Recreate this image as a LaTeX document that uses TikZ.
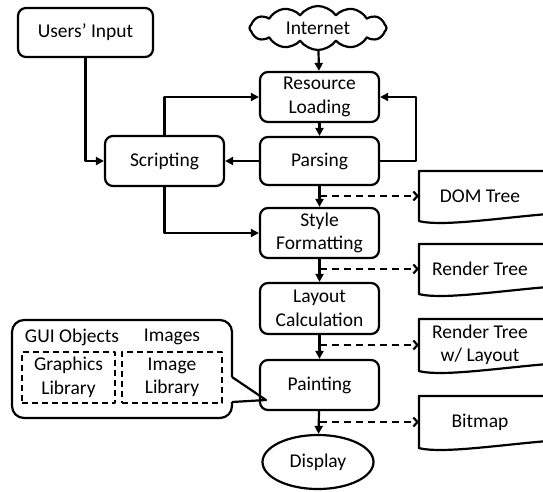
\documentclass[tikz,border=0pt]{standalone}
\usepackage{fontspec}
\setmainfont{Carlito}
\usetikzlibrary{arrows.meta,shapes.geometric,shapes.symbols}

\begin{document}
\begin{tikzpicture}[
  x=1pt, y=-1pt,
  font=\fontsize{19.5}{23.5}\selectfont,
  line width=2.2pt, line join=round,
  stage/.style={draw, rounded corners=8pt, align=center, minimum width=119pt, minimum height=50pt, inner sep=2pt},
  doc/.style={minimum width=120pt, minimum height=48pt, align=center, inner sep=0pt},
  lib/.style={draw, dash pattern=on 6pt off 4pt, align=center, minimum height=51pt, inner sep=0pt},
  flow/.style={-{Triangle[length=8pt,width=8pt]}},
  data/.style={dash pattern=on 7pt off 5pt, -{Straight Barb[length=4pt,width=9pt]}},
]

\useasboundingbox (0,0) rectangle (543,491);

\node [stage, minimum width=135pt, minimum height=49pt] (users) at (85.5,32.5) {Users' Input};
\node [draw, cloud, cloud puffs=12, cloud puff arc=110, aspect=3.2, minimum width=137pt, minimum height=44pt, inner sep=0pt] (net) at (318,28) {Internet};

\node [stage] (load) at (319.5,97) {Resource\\Loading};
\node [stage, minimum height=48pt] (parse) at (319.5,161) {Parsing};
\node [stage] (script) at (164.5,161) {Scripting};
\node [stage] (style) at (319.5,233) {Style\\Formatting};
\node [stage, minimum height=51pt] (layout) at (319.5,308.5) {Layout\\Calculation};
\node [stage] (paint) at (319.5,385) {Painting};
\node [draw, ellipse, minimum width=111pt, minimum height=54pt, inner sep=0pt] (disp) at (318,462) {Display};

\node [doc] (dom) at (480,196) {DOM Tree};
\node [doc] (rtree) at (480,269) {Render Tree};
\node [doc, minimum height=50pt] (rlay) at (480,345) {Render Tree\\w/ Layout};
\node [doc, minimum height=50pt] (bmp) at (480,422) {Bitmap};

\foreach \d in {dom, rtree, rlay, bmp}
  \draw (\d.north west) ++(140,0) -- (\d.north west) -- (\d.south west)
    .. controls +(25,6) and +(-55,4) .. ++(140,-8);

\draw [flow] (net) -- (load);
\draw [flow] (load) -- (parse);
\draw [flow] (parse) -- (style);
\draw [flow] (style) -- (layout);
\draw [flow] (layout) -- (paint);
\draw [flow] (paint) -- (disp);

\draw [flow] (users.south) |- (script.west);
\draw [flow] (parse.west) -- (script.east);
\draw [flow] (script.north) |- (load.west);
\draw [flow] (script.south) |- (style.west);
\draw [flow] (parse.east) -- ++(36,0) |- (load.east);

\draw [data] (parse.south |- dom.west) -- (dom.west);
\draw [data] (style.south |- rtree.west) -- (rtree.west);
\draw [data] (layout.south |- rlay.west) -- (rlay.west);
\draw [data] (paint.south |- bmp.west) -- (bmp.west);

\coordinate (tip) at (266,400);
\draw [rounded corners=12pt] (232,377) -- (232,320) -- (12,320) -- (12,418) -- (232,418) -- (232,402);
\draw (232,402) -- (tip) -- (232,377);
\node (gui) at (72,337) {GUI Objects};
\node (img) at (172,337) {Images};
\node [lib, minimum width=93pt] (glib) at (68.5,377.5) {Graphics\\Library};
\node [lib, minimum width=100pt] (ilib) at (172,377.5) {Image\\Library};

\end{tikzpicture}
\end{document}
